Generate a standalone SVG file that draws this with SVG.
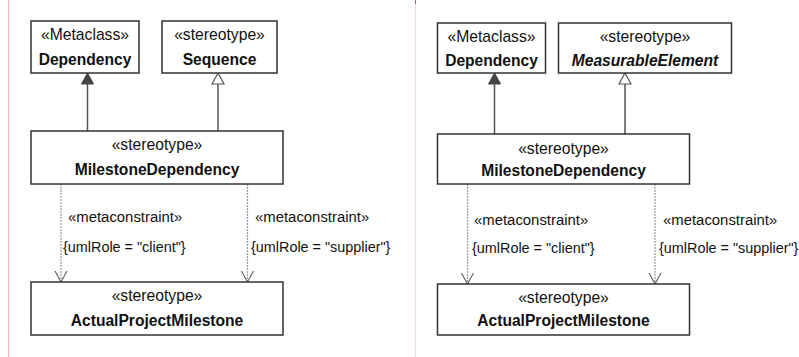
<svg xmlns="http://www.w3.org/2000/svg" width="799" height="357" viewBox="0 0 799 357">
<style>
.box{fill:#fff;stroke:#333;stroke-width:1.5}
.st{font-family:"Liberation Sans",Arial,sans-serif;font-size:15.7px;fill:#111;text-anchor:middle}
.nm{font-family:"Liberation Sans",Arial,sans-serif;font-size:15.6px;font-weight:bold;fill:#111;text-anchor:middle}
.it{font-style:italic}
.lb{font-family:"Liberation Sans",Arial,sans-serif;font-size:14.9px;fill:#111}
.lb2{font-family:"Liberation Sans",Arial,sans-serif;font-size:14.4px;fill:#111}
.gen{stroke:#555;stroke-width:1.5;fill:none}
.dep{stroke:#999;stroke-width:1.2;stroke-dasharray:2,1;fill:none}
.head{stroke:#666;stroke-width:1.2;fill:none}
</style>
<rect x="0" y="0" width="799" height="357" fill="#fff"/>
<line x1="8.5" y1="0" x2="8.5" y2="357" stroke="#f2b3b6" stroke-width="1"/>
<line x1="415.5" y1="0" x2="415.5" y2="357" stroke="#f9d9dd" stroke-width="1"/>
<line x1="415.5" y1="0" x2="415.5" y2="4" stroke="#e05060" stroke-width="1"/>

<g id="connectors">
  <line class="gen" x1="87.5" y1="131" x2="87.5" y2="84"/>
  <polygon points="87.5,73 81.5,84 93.5,84" fill="#444" stroke="#444" stroke-width="1"/>
  <line class="gen" x1="218" y1="131" x2="218" y2="84"/>
  <polygon points="218,73 212,84 224,84" fill="#fff" stroke="#555" stroke-width="1.2"/>
  <line class="dep" x1="61" y1="184" x2="61" y2="281"/>
  <polyline class="head" points="55,271 61,282 67,271"/>
  <line class="dep" x1="247.5" y1="184" x2="247.5" y2="281"/>
  <polyline class="head" points="241.5,271 247.5,282 253.5,271"/>

  <line class="gen" x1="494.5" y1="134" x2="494.5" y2="84"/>
  <polygon points="494.5,73 488.5,84 500.5,84" fill="#444" stroke="#444" stroke-width="1"/>
  <line class="gen" x1="625" y1="134" x2="625" y2="84"/>
  <polygon points="625,73 619,84 631,84" fill="#fff" stroke="#555" stroke-width="1.2"/>
  <line class="dep" x1="467.5" y1="184" x2="467.5" y2="283"/>
  <polyline class="head" points="461.5,273 467.5,284 473.5,273"/>
  <line class="dep" x1="655" y1="184" x2="655" y2="283"/>
  <polyline class="head" points="649,273 655,284 661,273"/>

  <text class="lb" x="68" y="221.5">«metaconstraint»</text>
  <text class="lb2" x="63" y="251.5">{umlRole = "client"}</text>
  <text class="lb" x="255" y="221.5">«metaconstraint»</text>
  <text class="lb2" x="251" y="251.5">{umlRole = "supplier"}</text>
  <text class="lb" x="474" y="225">«metaconstraint»</text>
  <text class="lb2" x="472" y="252.5">{umlRole = "client"}</text>
  <text class="lb" x="663" y="225">«metaconstraint»</text>
  <text class="lb2" x="659" y="252.5">{umlRole = "supplier"}</text>
</g>

<g id="dependency-left">
  <rect class="box" x="31" y="21" width="108" height="52"/>
  <text class="st" x="85" y="39.5">«Metaclass»</text>
  <text class="nm" x="85" y="64.5">Dependency</text>
</g>
<g id="sequence">
  <rect class="box" x="162" y="21" width="115" height="52"/>
  <text class="st" x="219.5" y="39.5">«stereotype»</text>
  <text class="nm" x="219.5" y="64.5">Sequence</text>
</g>
<g id="milestone-dependency-left">
  <rect class="box" x="31" y="131" width="252" height="53"/>
  <text class="st" x="157" y="149.5">«stereotype»</text>
  <text class="nm" x="157" y="174.5">MilestoneDependency</text>
</g>
<g id="actual-project-milestone-left">
  <rect class="box" x="31" y="282" width="252" height="53"/>
  <text class="st" x="157" y="300.5">«stereotype»</text>
  <text class="nm" x="157" y="325.5">ActualProjectMilestone</text>
</g>

<g id="dependency-right">
  <rect class="box" x="437.5" y="23" width="108" height="50"/>
  <text class="st" x="491.5" y="42">«Metaclass»</text>
  <text class="nm" x="491.5" y="66">Dependency</text>
</g>
<g id="measurable-element">
  <rect class="box" x="558.5" y="23" width="173" height="50"/>
  <text class="st" x="645" y="42">«stereotype»</text>
  <text class="nm it" x="645" y="66">MeasurableElement</text>
</g>
<g id="milestone-dependency-right">
  <rect class="box" x="437.5" y="134" width="252" height="50"/>
  <text class="st" x="563.5" y="154">«stereotype»</text>
  <text class="nm" x="563.5" y="176">MilestoneDependency</text>
</g>
<g id="actual-project-milestone-right">
  <rect class="box" x="437.5" y="284" width="252" height="51"/>
  <text class="st" x="563.5" y="303">«stereotype»</text>
  <text class="nm" x="563.5" y="326">ActualProjectMilestone</text>
</g>
</svg>
